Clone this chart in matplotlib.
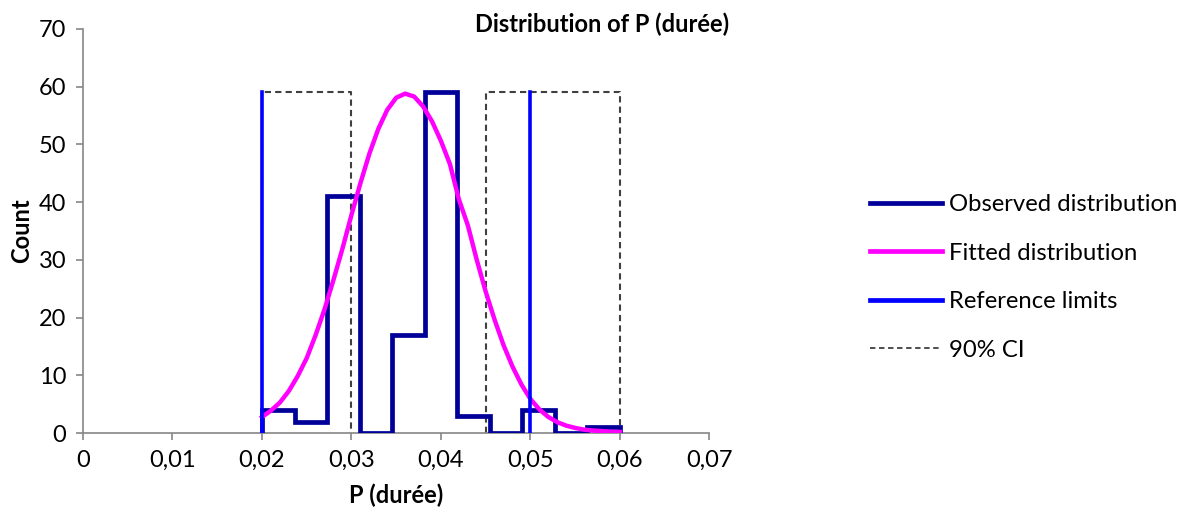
import matplotlib.pyplot as plt
import numpy as np
from matplotlib.lines import Line2D

plt.rcParams['font.family'] = ['Lato', 'DejaVu Sans']

# observed histogram (11 bins between 0.02 and 0.06)
binEdges = [0.02, 0.023636, 0.027273, 0.030909, 0.034545, 0.038182,
            0.041818, 0.045455, 0.049091, 0.052727, 0.056364, 0.06]
binCounts = [4, 2, 41, 0, 17, 59, 3, 0, 4, 0, 1]

# fitted distribution
fitX = [0.020, 0.021, 0.022, 0.023, 0.024, 0.025, 0.026, 0.027, 0.028, 0.029,
        0.030, 0.031, 0.032, 0.033, 0.034, 0.035, 0.036, 0.037, 0.038, 0.039,
        0.040, 0.041, 0.042, 0.043, 0.044, 0.045, 0.046, 0.047, 0.048, 0.049,
        0.050, 0.051, 0.052, 0.053, 0.054, 0.055, 0.056, 0.057, 0.058, 0.059, 0.060]
fitY = [2.8, 3.9, 5.3, 7.3, 9.9, 13.0, 17.0, 21.5, 26.6, 32.0,
        37.8, 43.3, 48.4, 52.7, 56.0, 58.1, 58.8, 58.3, 56.6, 54.0,
        50.6, 46.6, 40.5, 36.0, 30.0, 24.5, 19.6, 15.2, 11.5, 8.4,
        5.9, 4.1, 2.8, 1.9, 1.3, 0.9, 0.6, 0.45, 0.35, 0.25, 0.2]

refLimits = [0.02, 0.05]
ciLower = [0.02, 0.03]
ciUpper = [0.045, 0.06]
ciHeight = 59

xTicks = [0, 0.01, 0.02, 0.03, 0.04, 0.05, 0.06, 0.07]
xTickLabels = ['0', '0,01', '0,02', '0,03', '0,04', '0,05', '0,06', '0,07']
yTicks = [0, 10, 20, 30, 40, 50, 60, 70]

navy = '#000099'
pink = '#FF00FF'
blue = '#0000FF'
grey = '#868686'

fig = plt.figure(figsize=(11.92, 5.12), dpi=100)
ax = fig.add_axes([0.0696, 0.154, 0.5256, 0.7894])

# step outline of the histogram
sx = [binEdges[0]]
sy = [0]
for i in range(len(binCounts)):
    sx += [binEdges[i], binEdges[i+1]]
    sy += [binCounts[i], binCounts[i]]
sx.append(binEdges[-1])
sy.append(0)
ax.plot(sx, sy, color=navy, linewidth=3.4, solid_joinstyle='miter', zorder=3)

ax.plot(fitX, fitY, color=pink, linewidth=3.2, zorder=4)

for lo, hi in [ciLower, ciUpper]:
    ax.plot([lo, lo, hi, hi], [0, ciHeight, ciHeight, 0], '--', color='#404040',
            linewidth=1.5, dashes=(3, 2), zorder=2)

for r in refLimits:
    ax.plot([r, r], [0, ciHeight], color=blue, linewidth=2.6, zorder=5)

ax.set_xlim(0, 0.07)
ax.set_ylim(0, 70)
ax.set_xticks(xTicks)
ax.set_xticklabels(xTickLabels)
ax.set_yticks(yTicks)
for s in ['top', 'right']:
    ax.spines[s].set_visible(False)
for s in ['left', 'bottom']:
    ax.spines[s].set_color(grey)
    ax.spines[s].set_linewidth(1.2)
ax.tick_params(direction='out', length=5, color=grey, width=1.2,
               labelsize=17, pad=7)

ax.set_xlabel('P (durée)', fontsize=17, fontweight='bold')
ax.xaxis.set_label_coords(0.5, -0.125)
ax.set_ylabel('Count', fontsize=17, fontweight='bold')
ax.yaxis.set_label_coords(-0.08, 0.5)
fig.text(0.505, 0.953, 'Distribution of P (durée)', fontsize=17,
         fontweight='bold', ha='center', va='center')

handles = [Line2D([], [], color=navy, linewidth=3.4),
           Line2D([], [], color=pink, linewidth=3.4),
           Line2D([], [], color=blue, linewidth=3.4),
           Line2D([], [], color='#404040', linewidth=1.3, linestyle='--', dashes=(3, 2))]
labels = ['Observed distribution', 'Fitted distribution', 'Reference limits', '90% CI']
fig.legend(handles, labels, loc='center left', bbox_to_anchor=(0.722, 0.458),
           frameon=False, fontsize=17.2, handlelength=3.0, handletextpad=0.3,
           labelspacing=1.15, borderaxespad=0)

plt.savefig('out.png', dpi=100)
